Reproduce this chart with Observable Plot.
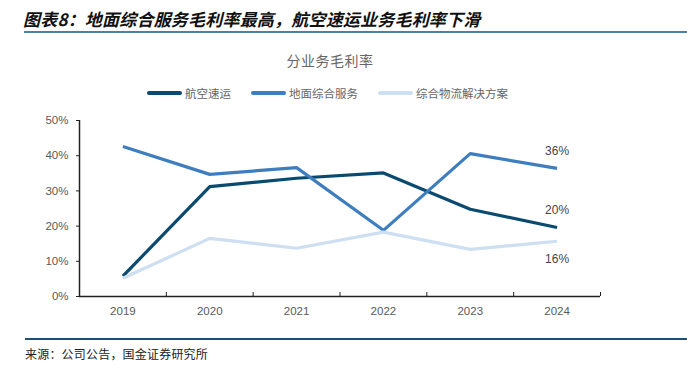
<!DOCTYPE html>
<html>
<head>
<meta charset="utf-8">
<script src="https://cdn.jsdelivr.net/npm/d3@7"></script>
<script src="https://cdn.jsdelivr.net/npm/@observablehq/plot@0.6"></script>
<style>
  html, body { margin: 0; padding: 0; background: #fff; }
  body { width: 687px; height: 371px; position: relative; overflow: hidden; font-family: "Noto Sans CJK SC", "Liberation Sans", sans-serif; }
  #title { position: absolute; left: 23px; top: 6px; font-size: 17px; font-weight: bold; font-style: italic; color: #111; white-space: nowrap; letter-spacing: 0.2px; }
  #hline { position: absolute; left: 24px; right: 0; top: 31px; height: 2px; background: #4f7f9e; }
  #ctitle { position: absolute; left: 0; width: 660px; top: 50px; text-align: center; font-size: 14px; color: #666; letter-spacing: 0.5px; }
  #legend { position: absolute; left: 147px; top: 85px; font-size: 11.5px; color: #666; white-space: nowrap; display: flex; align-items: center; }
  #legend .item { display: flex; align-items: center; margin-right: 20px; }
  #legend .sw { width: 35px; height: 4px; border-radius: 2px; margin-right: 3px; }
  #chart { position: absolute; left: 0; top: 100px; }
  #fline { position: absolute; left: 25px; right: 0; top: 338px; height: 2px; background: #1f4e6e; }
  #source { position: absolute; left: 25px; top: 345px; font-size: 12px; color: #222; white-space: nowrap; letter-spacing: 0.2px; }
</style>
</head>
<body>
<div id="title"></div>
<div id="hline"></div>
<div id="ctitle"></div>
<div id="legend"></div>
<div id="chart"></div>
<div id="fline"></div>
<div id="source"></div>
<script>
const titleText = "图表8：地面综合服务毛利率最高，航空速运业务毛利率下滑";
const chartTitle = "分业务毛利率";
const sourceText = "来源：公司公告，国金证券研究所";

const years = [2019, 2020, 2021, 2022, 2023, 2024];
const seriesNames = ["航空速运", "地面综合服务", "综合物流解决方案"];
const seriesColors = ["#0b4a6f", "#3e7ebf", "#cddff1"];
const airExpress = [0.058, 0.312, 0.336, 0.351, 0.248, 0.196];
const groundService = [0.426, 0.347, 0.366, 0.188, 0.406, 0.364];
const logistics = [0.052, 0.165, 0.137, 0.183, 0.134, 0.157];
const yTicks = [0, 0.1, 0.2, 0.3, 0.4, 0.5];

document.getElementById("title").textContent = titleText;
document.getElementById("ctitle").textContent = chartTitle;
document.getElementById("source").textContent = sourceText;

const legend = document.getElementById("legend");
seriesNames.forEach((name, i) => {
  const item = document.createElement("div");
  item.className = "item";
  const sw = document.createElement("div");
  sw.className = "sw";
  sw.style.background = seriesColors[i];
  const t = document.createElement("span");
  t.textContent = name;
  item.appendChild(sw);
  item.appendChild(t);
  legend.appendChild(item);
});

const allValues = [airExpress, groundService, logistics];
const data = [];
seriesNames.forEach((name, si) => {
  years.forEach((y, i) => data.push({series: name, year: y, value: allValues[si][i]}));
});
const last = data.filter(d => d.year === years[years.length - 1]);
const labelDy = {"航空速运": -17, "地面综合服务": -17, "综合物流解决方案": 18};
const boundaries = years.map(y => y + 0.5);

const chart = Plot.plot({
  width: 687,
  height: 230,
  marginLeft: 79,
  marginRight: 87,
  marginTop: 20,
  marginBottom: 34,
  style: {fontFamily: "'Liberation Sans', Arial, sans-serif", fontSize: "11.5px", color: "#595959", background: "transparent"},
  x: {domain: [years[0] - 0.5, years[years.length - 1] + 0.5]},
  y: {domain: [0, 0.5]},
  color: {domain: seriesNames, range: seriesColors},
  marks: [
    Plot.axisY({ticks: yTicks, tickFormat: d3.format(".0%"), tickSize: 3, tickPadding: 8, label: null, stroke: "#222", fill: "#595959", fontSize: 11.5}),
    Plot.axisX({ticks: years, tickFormat: d => String(d), tickSize: 0, tickPadding: 10, label: null, fill: "#595959", fontSize: 11.5}),
    Plot.ruleX(boundaries, {x: d => d, y1: 0, y2: 0, insetTop: -4, stroke: "#222", strokeWidth: 1}),
    Plot.ruleY([0], {stroke: "#222", strokeWidth: 1.5}),
    Plot.ruleX([years[0] - 0.5], {stroke: "#222", strokeWidth: 1.5}),
    Plot.line(data, {x: "year", y: "value", z: "series", stroke: "series", strokeWidth: 3.2, strokeLinejoin: "miter", strokeLinecap: "butt"}),
    Plot.text(last, {x: "year", y: "value", text: d => Math.round(d.value * 100) + "%", dy: 0, fill: "#444", fontSize: 12, render: (index, scales, values, dims, context, next) => {
      const g = next(index, scales, values, dims, context);
      d3.select(g).selectAll("text").each(function(_, j) {
        const d = last[index[j]];
        d3.select(this).attr("dy", labelDy[d.series]);
      });
      return g;
    }})
  ]
});
document.getElementById("chart").appendChild(chart);
</script>
</body>
</html>
